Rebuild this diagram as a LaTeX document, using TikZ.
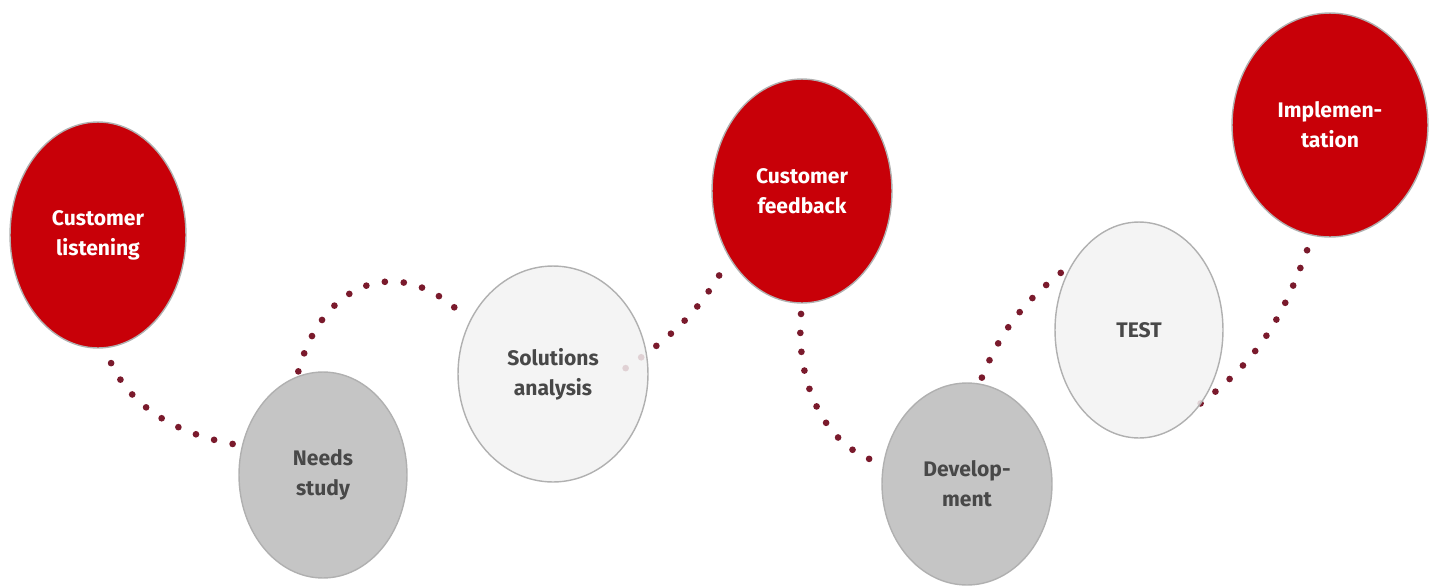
\documentclass[tikz,border=0pt]{standalone}
\usepackage{fontspec}
\setmainfont{Fira Sans}
\usetikzlibrary{shapes.geometric}
\pgfdeclarelayer{background}
\pgfsetlayers{background,main}

\definecolor{stepred}{RGB}{200,0,8}
\definecolor{steppale}{RGB}{242,242,242}
\definecolor{stepgrey}{RGB}{191,191,191}
\definecolor{rimgrey}{RGB}{176,176,176}
\definecolor{dotred}{RGB}{122,26,44}
\definecolor{textgrey}{RGB}{72,72,72}

\tikzstyle{ball}=[ellipse, draw=rimgrey, line width=0.8pt, inner sep=0pt, outer sep=0pt, align=center, font=\fontsize{12}{17}\selectfont\bfseries]
\tikzstyle{redball}=[ball, fill=stepred, text=white]
\tikzstyle{greyball}=[ball, fill=stepgrey, text=textgrey, fill opacity=0.9, text opacity=1]
\tikzstyle{paleball}=[ball, fill=steppale, text=textgrey, fill opacity=0.85, text opacity=1]
\tikzstyle{trail}=[dotred, line width=3.8pt, line cap=round, dash pattern=on 0pt off 10.8pt]

\begin{document}
\begin{tikzpicture}[x=0.02cm, y=0.02cm]
	\useasboundingbox (0,0) rectangle (1438,-586);

	\node[redball, minimum width=3.52cm, minimum height=4.52cm] (listen) at (98,-235) {Customer\\listening};
	\node[greyball, minimum width=3.36cm, minimum height=4.12cm] (needs) at (323,-475) {Needs\\study};
	\node[paleball, minimum width=3.80cm, minimum height=4.32cm] (solve) at (553,-374) {Solutions\\analysis};
	\node[redball, minimum width=3.60cm, minimum height=4.48cm] (feedback) at (802,-191) {Customer\\feedback};
	\node[greyball, minimum width=3.40cm, minimum height=4.04cm] (develop) at (967,-484) {Develop-\\ment};
	\node[paleball, minimum width=3.36cm, minimum height=4.32cm] (test) at (1139,-330) {TEST};
	\node[redball, minimum width=3.92cm, minimum height=4.48cm] (implement) at (1330,-125) {Implemen-\\tation};

	\begin{pgfonlayer}{background}
	\draw[trail, shorten <=0.34cm, shorten >=0.14cm] (listen.-87) to [out=-65, in=170] (needs.160);
	\draw[trail, shorten <=0.12cm, shorten >=0.16cm] (needs.105) to [out=75, in=135, looseness=1.4] (solve.148);
	\draw[trail, shorten <=-0.5cm, shorten >=0.18cm] (solve.12) to [out=34, in=-122] (feedback.-137);
	\draw[trail, shorten <=0.22cm, shorten >=0.28cm] (feedback.-90) to [out=-95, in=158] (develop.167);
	\draw[trail, shorten <=0.14cm, shorten >=0.1cm] (develop.83) to [out=68, in=217] (test.135);
	\draw[trail, shorten >=0.26cm] (test.-50) to [out=37, in=250] (implement.-99);
	\end{pgfonlayer}
\end{tikzpicture}
\end{document}
